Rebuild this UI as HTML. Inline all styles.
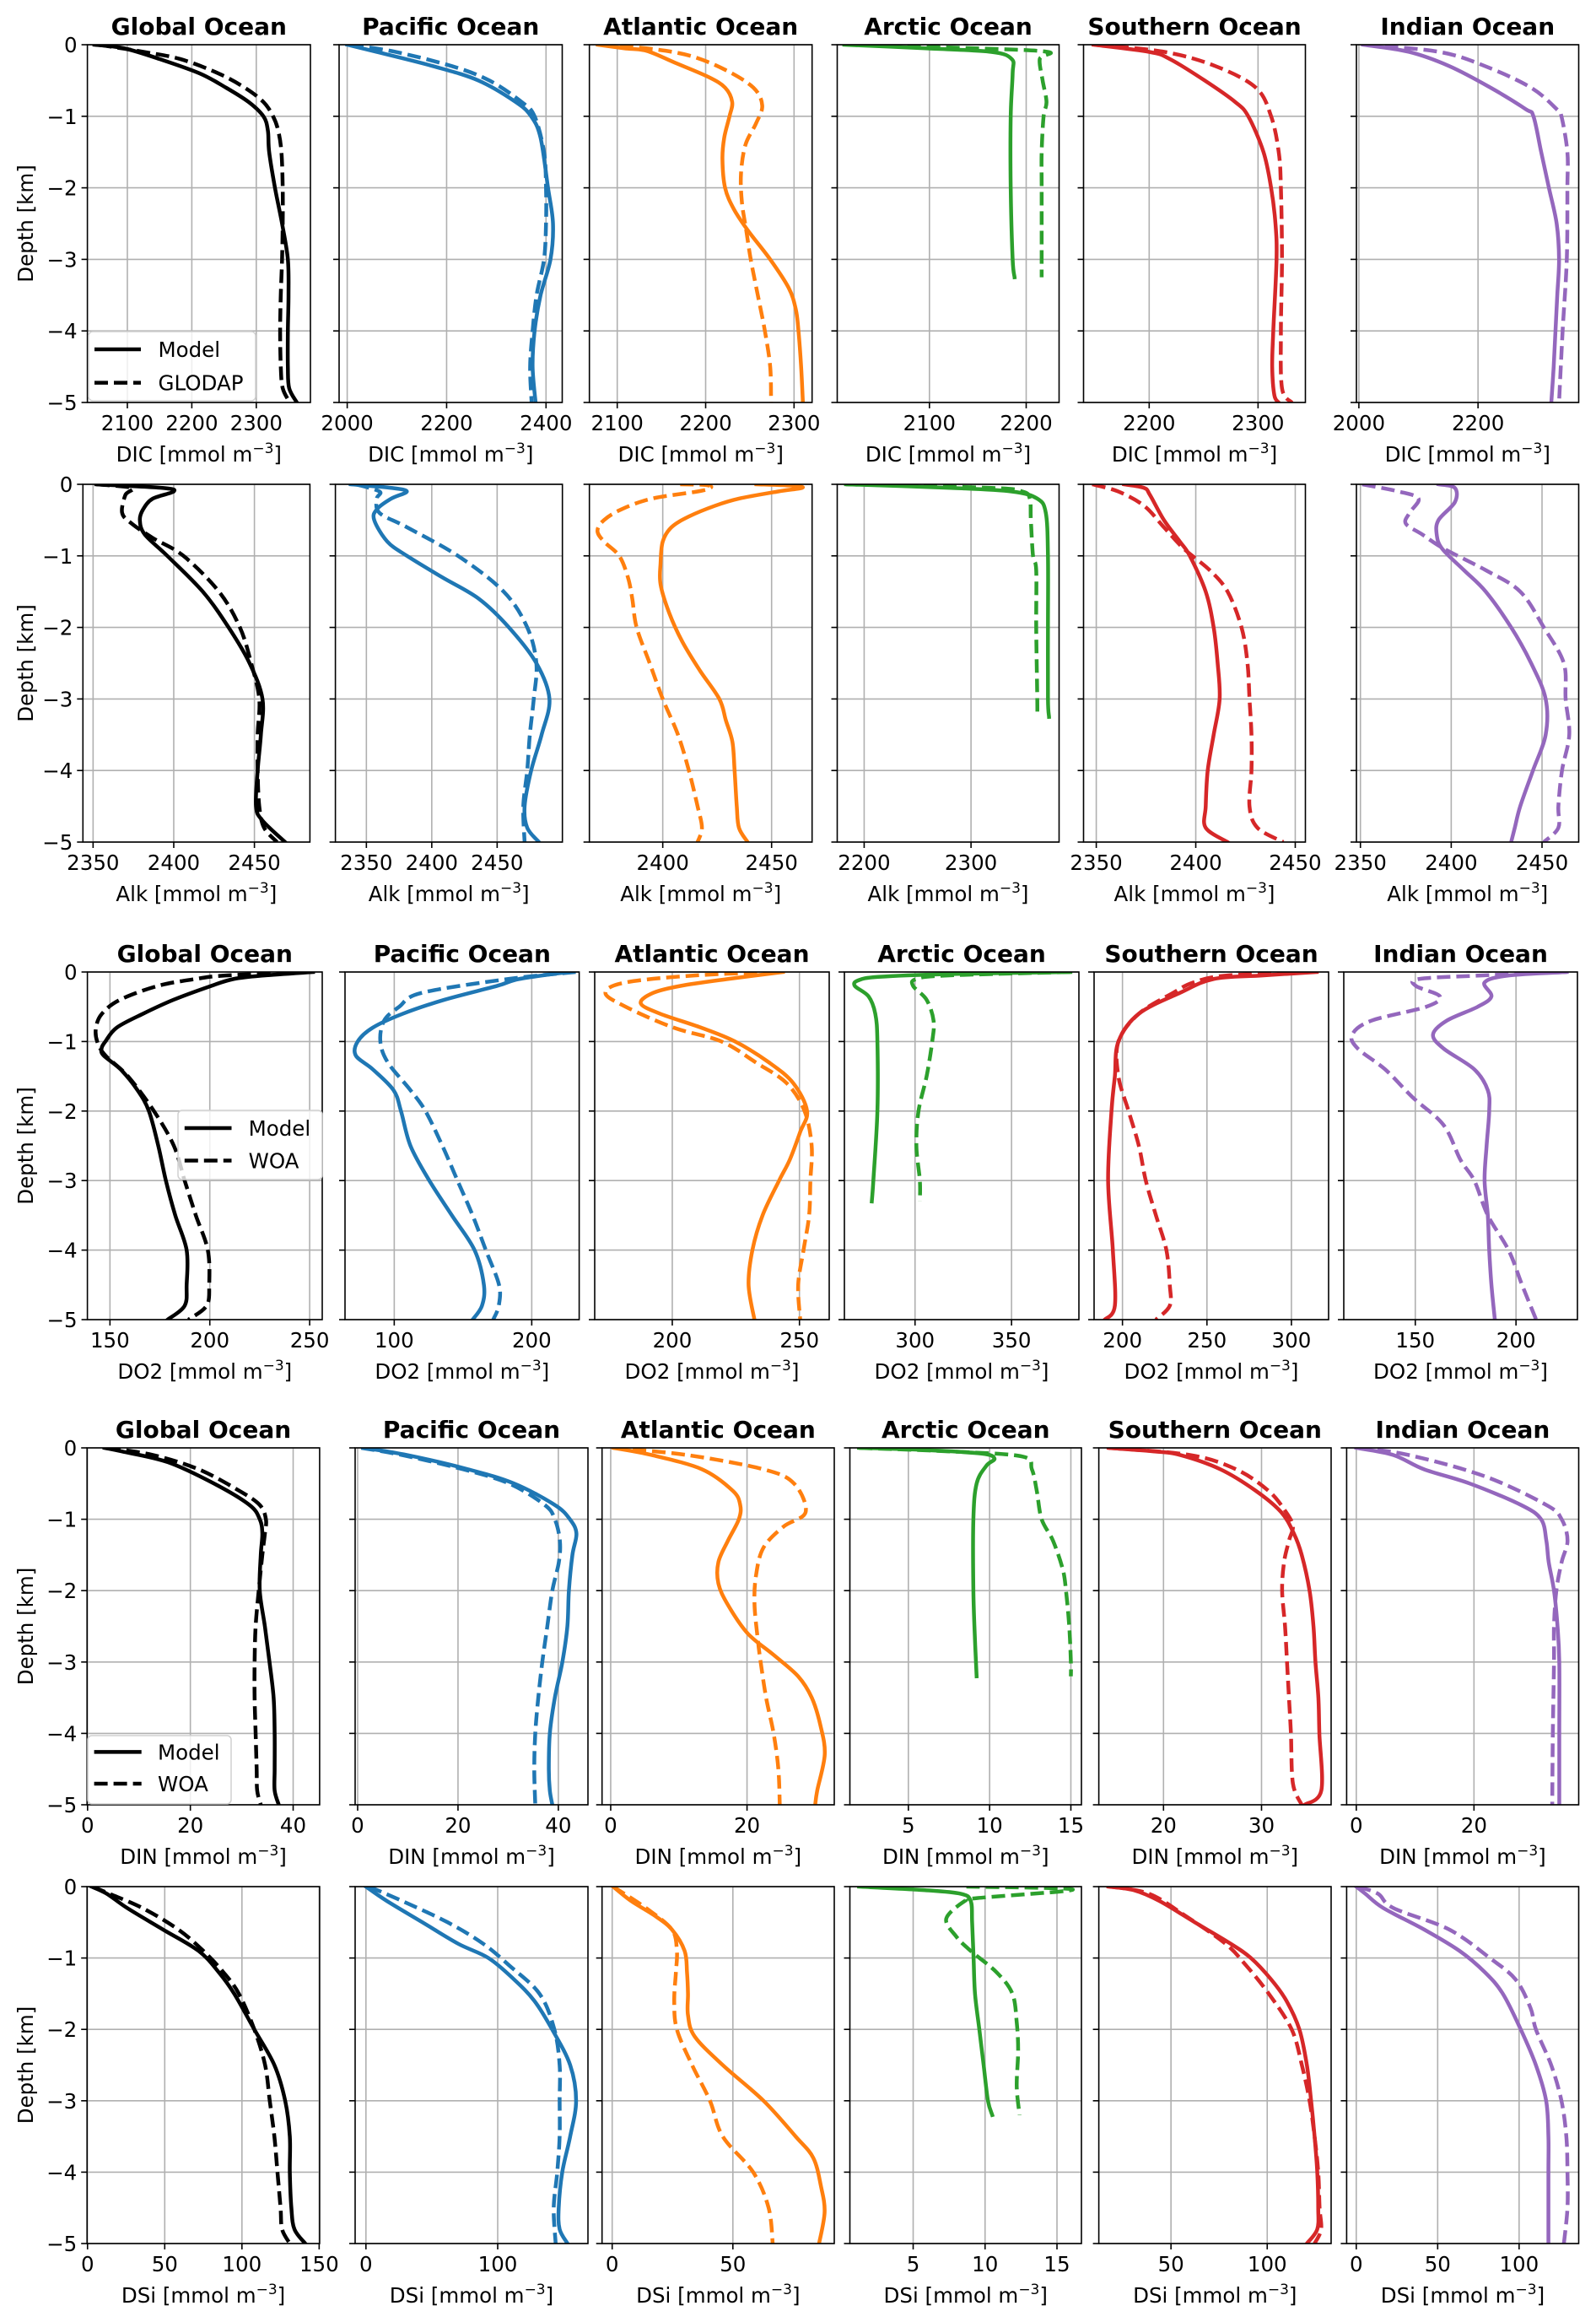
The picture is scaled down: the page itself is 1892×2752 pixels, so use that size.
<!DOCTYPE html>
<html><head><meta charset="utf-8">
<style>
html,body{margin:0;padding:0;background:#fff;}
svg{display:block;font-family:"DejaVu Sans","Liberation Sans",sans-serif;}
</style></head>
<body>
<svg id="fig" width="1892" height="2752" viewBox="0 0 1892 2752" xmlns="http://www.w3.org/2000/svg"></svg>
<script>
// ===== DATA: [depth km, value] pairs =====
const DIC_GLOBAL_MODEL=[[0,2049],[-0.05,2095],[-0.2,2150],[-0.4,2212],[-0.6,2253],[-0.8,2288],[-1,2311],[-1.2,2318],[-1.5,2320],[-2,2329],[-2.5,2340],[-3,2349],[-3.5,2350],[-4,2349],[-4.5,2349],[-4.8,2351],[-5,2363]];
const DIC_GLOBAL_OBS=[[0,2055],[-0.1,2125],[-0.2,2182],[-0.4,2241],[-0.6,2282],[-0.8,2311],[-1,2326],[-1.2,2334],[-1.5,2339],[-2,2341],[-2.5,2341],[-3,2340],[-3.5,2338],[-4,2337],[-4.5,2338],[-4.8,2341],[-5,2352]];
const DIC_PACIFIC_MODEL=[[0,2000],[-0.1,2059],[-0.3,2173],[-0.5,2264],[-0.8,2339],[-1,2370],[-1.3,2389],[-2,2404],[-2.5,2414],[-3,2409],[-3.5,2389],[-4,2377],[-4.5,2373],[-5,2379]];
const DIC_PACIFIC_OBS=[[0,2006],[-0.1,2097],[-0.3,2211],[-0.5,2286],[-0.8,2351],[-1,2377],[-1.5,2396],[-2,2400],[-2.5,2400],[-3,2396],[-3.5,2381],[-4,2373],[-4.5,2368],[-5,2371]];
const DIC_ATLANTIC_MODEL=[[0,2078],[-0.05,2108],[-0.085,2133],[-0.25,2165],[-0.45,2203],[-0.6,2222],[-0.8,2230],[-1,2227],[-1.3,2221],[-1.6,2219],[-2,2222],[-2.3,2232],[-2.6,2248],[-3,2273],[-3.4,2294],[-3.7,2302],[-4,2305],[-4.5,2308],[-5,2310]];
const DIC_ATLANTIC_OBS=[[0,2081],[-0.05,2133],[-0.15,2181],[-0.35,2222],[-0.6,2254],[-0.85,2264],[-1.1,2257],[-1.4,2245],[-1.8,2240],[-2.2,2241],[-2.6,2246],[-3,2251],[-3.5,2259],[-4,2267],[-4.5,2273],[-5,2274]];
const DIC_ARCTIC_MODEL=[[0,2012],[-0.05,2096],[-0.1,2164],[-0.2,2185],[-0.4,2186],[-1,2184],[-2,2184],[-3,2186],[-3.25,2188]];
const DIC_ARCTIC_OBS=[[0,2017],[-0.05,2148],[-0.1,2222],[-0.2,2214],[-0.5,2217],[-0.8,2221],[-1,2218],[-1.5,2216],[-2,2216],[-3.25,2216]];
const DIC_SOUTHERN_MODEL=[[0,2149],[-0.1,2200],[-0.2,2219],[-0.5,2251],[-0.8,2279],[-1,2291],[-1.5,2305],[-2,2312],[-2.5,2316],[-3,2317],[-4,2314],[-4.5,2313],[-4.9,2315],[-5,2319]];
const DIC_SOUTHERN_OBS=[[0,2151],[-0.1,2214],[-0.3,2261],[-0.6,2298],[-1,2312],[-1.5,2319],[-2,2321],[-3,2322],[-4,2321],[-4.8,2322],[-5,2331]];
const DIC_INDIAN_MODEL=[[0,2007],[-0.1,2084],[-0.3,2152],[-0.6,2221],[-0.9,2280],[-1,2293],[-1.5,2306],[-2,2319],[-2.5,2332],[-3,2336],[-3.5,2333],[-4,2330],[-4.5,2327],[-5,2323]];
const DIC_INDIAN_OBS=[[0,2011],[-0.1,2135],[-0.3,2212],[-0.6,2289],[-0.9,2332],[-1,2340],[-1.5,2350],[-2,2350],[-3,2349],[-4,2342],[-5,2336]];

const ALK_GLOBAL_MODEL=[[0,2352],[-0.05,2393],[-0.1,2400],[-0.2,2387],[-0.35,2381],[-0.5,2379],[-0.7,2382],[-1,2396],[-1.5,2418],[-2,2434],[-2.5,2447],[-3,2455],[-3.5,2454],[-4,2452],[-4.5,2451],[-4.7,2455],[-5,2469]];
const ALK_GLOBAL_OBS=[[0,2352],[-0.05,2374],[-0.15,2370],[-0.4,2368],[-0.55,2374],[-0.75,2387],[-1,2406],[-1.5,2428],[-2,2441],[-2.5,2448],[-3,2453],[-3.5,2452],[-4,2452],[-4.5,2453],[-4.8,2456],[-5,2464]];
const ALK_PACIFIC_MODEL=[[0,2338],[-0.05,2369],[-0.1,2381],[-0.2,2369],[-0.35,2358],[-0.5,2356],[-0.8,2366],[-1,2381],[-1.3,2408],[-1.6,2436],[-2,2459],[-2.5,2480],[-3,2490],[-3.5,2484],[-4,2476],[-4.5,2471],[-4.8,2473],[-5,2482]];
const ALK_PACIFIC_OBS=[[0,2342],[-0.1,2360],[-0.2,2358],[-0.4,2360],[-0.6,2381],[-1,2420],[-1.5,2455],[-2,2473],[-2.5,2480],[-3,2478],[-3.5,2475],[-4,2473],[-4.5,2470],[-5,2471]];
const ALK_ATLANTIC_MODEL=[[0,2443],[-0.02,2460],[-0.05,2464],[-0.1,2453],[-0.2,2435],[-0.3,2424],[-0.45,2412],[-0.6,2404],[-0.8,2400],[-1.1,2399],[-1.4,2399],[-1.8,2403],[-2.2,2409],[-2.6,2417],[-3,2426],[-3.3,2429],[-3.6,2432],[-4,2433],[-4.5,2434],[-4.8,2435],[-5,2439]];
const ALK_ATLANTIC_OBS=[[0,2408],[-0.01,2420],[-0.05,2422],[-0.1,2416],[-0.2,2395],[-0.35,2381],[-0.5,2373],[-0.65,2370],[-0.8,2373],[-1,2380],[-1.3,2384],[-1.6,2386],[-2,2388],[-2.5,2394],[-3,2400],[-3.5,2407],[-4,2412],[-4.5,2416],[-4.8,2418],[-5,2416]];
const ALK_ARCTIC_MODEL=[[0,2183],[-0.05,2281],[-0.1,2338],[-0.2,2362],[-0.4,2370],[-1,2372],[-2,2372],[-3,2372],[-3.25,2373]];
const ALK_ARCTIC_OBS=[[0,2183],[-0.05,2319],[-0.1,2348],[-0.2,2355],[-0.5,2356],[-1,2358],[-1.2,2361],[-2,2361],[-3,2362],[-3.25,2362]];
const ALK_SOUTHERN_MODEL=[[0,2364],[-0.05,2374],[-0.15,2377],[-0.5,2384],[-0.8,2392],[-1,2397],[-1.5,2405],[-2,2409],[-2.5,2411],[-3,2412],[-3.5,2409],[-4,2406],[-4.5,2405],[-4.8,2405],[-5,2416]];
const ALK_SOUTHERN_OBS=[[0,2348],[-0.1,2361],[-0.3,2374],[-0.6,2384],[-0.9,2394],[-1.2,2407],[-1.5,2416],[-2,2423],[-2.5,2426],[-3,2427],[-3.5,2428],[-4,2428],[-4.5,2427],[-4.8,2431],[-5,2444]];
const ALK_INDIAN_MODEL=[[0,2393],[-0.05,2402],[-0.25,2402],[-0.5,2393],[-0.7,2392],[-0.9,2395],[-1.2,2407],[-1.5,2419],[-2,2433],[-2.5,2444],[-3,2452],[-3.5,2452],[-4,2445],[-4.5,2438],[-4.8,2435],[-5,2433]];
const ALK_INDIAN_OBS=[[0,2351],[-0.1,2371],[-0.2,2382],[-0.4,2377],[-0.55,2375],[-0.7,2384],[-0.9,2396],[-1.2,2419],[-1.5,2438],[-2,2451],[-2.5,2462],[-3,2463],[-3.5,2465],[-4,2461],[-4.5,2459],[-4.8,2459],[-5,2451]];

const DO2_GLOBAL_MODEL=[[0,251.7],[-0.05,227],[-0.1,212],[-0.2,200.7],[-0.4,181.8],[-0.6,166.6],[-0.8,153.4],[-1,147.7],[-1.1,145.8],[-1.2,146.8],[-1.4,155.3],[-1.7,163.8],[-2,169.5],[-2.5,174.2],[-3,178],[-3.5,182.7],[-4,188.4],[-4.5,188.4],[-4.8,187.4],[-5,178.9]];
const DO2_GLOBAL_OBS=[[0,249.8],[-0.05,208],[-0.1,193],[-0.2,174],[-0.4,155],[-0.6,146],[-0.8,143],[-1,143.6],[-1.2,147.7],[-1.5,159],[-2,172],[-2.5,182],[-3,187.4],[-3.5,193],[-4,199],[-4.5,199.7],[-4.8,198.4],[-5,189.3]];
const DO2_PACIFIC_MODEL=[[0,226.8],[-0.1,191],[-0.2,174.8],[-0.4,136.4],[-0.6,106.3],[-0.8,84.4],[-1,73.4],[-1.2,72],[-1.4,84.4],[-1.7,99.5],[-2,104.9],[-2.5,111.8],[-3,125.5],[-3.5,141.9],[-4,158.4],[-4.5,165.2],[-4.8,163.8],[-5,157]];
const DO2_PACIFIC_OBS=[[0,232],[-0.1,183],[-0.3,120],[-0.5,103.6],[-0.7,92.6],[-1,89.9],[-1.3,95.3],[-1.7,111.8],[-2,122.7],[-2.5,135],[-3,146],[-3.5,157],[-4,166.6],[-4.5,176.2],[-4.8,176],[-5,172]];
const DO2_ATLANTIC_MODEL=[[0,243.5],[-0.1,222],[-0.2,203.2],[-0.3,192.5],[-0.45,187.6],[-0.6,195.2],[-0.8,211.3],[-1,224.7],[-1.3,238],[-1.6,247.6],[-2,253],[-2.3,250.3],[-2.7,246.2],[-3,242],[-3.5,235.5],[-4,231.5],[-4.5,230],[-5,232.3]];
const DO2_ATLANTIC_OBS=[[0,241],[-0.05,208.6],[-0.15,181.7],[-0.3,173.7],[-0.5,181.7],[-0.8,200.5],[-1,219.4],[-1.3,232.8],[-1.6,245],[-2,252],[-2.5,254.8],[-3,254.3],[-3.5,253.8],[-4,251.6],[-4.5,249.5],[-5,250.3]];
const DO2_ARCTIC_MODEL=[[0,380.5],[-0.03,316.7],[-0.07,281],[-0.12,270.6],[-0.2,268.8],[-0.35,275.9],[-0.6,279.4],[-1,280.5],[-2,280.5],[-3,278.4],[-3.3,277.6]];
const DO2_ARCTIC_OBS=[[0,380.5],[-0.05,316.7],[-0.1,300.7],[-0.2,299],[-0.4,306],[-0.7,309.6],[-1,308.9],[-1.5,306],[-2,301.8],[-2.5,300.7],[-3,302.5],[-3.3,302.5]];
const DO2_SOUTHERN_MODEL=[[0,315],[-0.05,282.6],[-0.1,254],[-0.3,234],[-0.6,209.7],[-1,197.6],[-1.5,195.5],[-2,193.5],[-3,191.5],[-4,194.3],[-4.8,195.5],[-5,189.5]];
const DO2_SOUTHERN_OBS=[[0,311],[-0.05,262],[-0.15,242],[-0.3,230],[-0.6,209.7],[-1,197.6],[-1.5,197.6],[-2,203.6],[-2.5,209.7],[-3,213.8],[-3.5,219.8],[-4,226],[-4.5,228],[-4.8,228],[-5,219.8]];
const DO2_INDIAN_MODEL=[[0,225.2],[-0.05,196.3],[-0.15,184.4],[-0.35,187.8],[-0.5,181],[-0.7,165.6],[-0.9,158.8],[-1.1,164],[-1.4,179.3],[-1.7,186],[-2,186.7],[-2.5,185.4],[-3,184.4],[-3.5,186],[-4,186.7],[-4.5,187.8],[-5,189.5]];
const DO2_INDIAN_OBS=[[0,225.2],[-0.05,182.7],[-0.1,152],[-0.2,150.3],[-0.35,162.2],[-0.5,155.4],[-0.7,128.2],[-0.9,118.7],[-1.1,121.4],[-1.4,135],[-1.8,148.6],[-2.2,164],[-2.7,172.4],[-3,179.3],[-3.5,186],[-4,196.3],[-4.5,203],[-5,210]];

const DIN_GLOBAL_MODEL=[[0,3.3],[-0.05,6.7],[-0.2,15.6],[-0.5,24.6],[-0.8,31.5],[-1,33.5],[-1.2,34],[-1.5,33.7],[-2,33.5],[-2.5,34.5],[-3,35.4],[-3.5,36.2],[-4,36.4],[-4.5,36.4],[-4.8,36.4],[-5,37.2]];
const DIN_GLOBAL_OBS=[[0,3.8],[-0.1,12.7],[-0.3,21.6],[-0.6,29.5],[-0.8,33.5],[-1,34.7],[-1.2,34.5],[-1.5,34],[-2,33.3],[-2.5,32.7],[-3,32.5],[-3.5,32.5],[-4,32.7],[-4.5,32.9],[-4.8,33],[-5,33.7]];
const DIN_PACIFIC_MODEL=[[0,1.2],[-0.1,9.8],[-0.3,22],[-0.5,31.2],[-0.8,39.3],[-1,42.3],[-1.2,43.6],[-1.5,42.8],[-2,42.1],[-2.5,41.8],[-3,40.8],[-3.5,39.3],[-4,38.3],[-4.5,38.1],[-4.8,38.3],[-5,38.8]];
const DIN_PACIFIC_OBS=[[0,0.7],[-0.1,8.8],[-0.3,21],[-0.5,30.2],[-0.8,37.3],[-1,39.3],[-1.3,40.3],[-1.6,40.1],[-2,38.8],[-2.5,37.8],[-3,36.8],[-3.5,36],[-4,35.4],[-4.5,35.2],[-5,35.4]];
const DIN_ATLANTIC_MODEL=[[0,0.4],[-0.1,6],[-0.3,13.4],[-0.6,17.9],[-0.8,19],[-1,18.8],[-1.3,17.2],[-1.6,15.8],[-1.9,15.8],[-2.2,17.2],[-2.6,20.1],[-2.9,23.9],[-3.2,27.5],[-3.5,29.5],[-3.9,30.8],[-4.3,31.4],[-4.8,30.3],[-5,30]];
const DIN_ATLANTIC_OBS=[[0,0.4],[-0.1,11.2],[-0.3,22.4],[-0.5,26.9],[-0.9,28.6],[-1.1,25.4],[-1.4,22.4],[-1.8,21.3],[-2.2,21.1],[-2.7,21.6],[-3,22],[-3.5,22.8],[-4,23.9],[-4.5,24.6],[-5,24.8]];
const DIN_ARCTIC_MODEL=[[0,1.96],[-0.03,6],[-0.08,9.5],[-0.15,10.3],[-0.25,9.8],[-0.5,9.2],[-1,9],[-2,9],[-2.7,9.1],[-3.2,9.2]];
const DIN_ARCTIC_OBS=[[0,1.96],[-0.05,7.6],[-0.12,12],[-0.3,12.6],[-0.6,12.9],[-1,13.2],[-1.3,13.9],[-1.7,14.5],[-2,14.7],[-2.5,14.9],[-3,15],[-3.2,15]];
const DIN_SOUTHERN_MODEL=[[0,14.4],[-0.05,19.1],[-0.1,21.7],[-0.3,25.8],[-0.6,29.4],[-0.9,32],[-1.2,33.3],[-1.5,34.1],[-2,34.9],[-2.5,35.3],[-3,35.5],[-3.5,35.8],[-4,35.9],[-4.8,36.1],[-5,34.4]];
const DIN_SOUTHERN_OBS=[[0,14.4],[-0.1,22.7],[-0.3,27.4],[-0.6,30.7],[-0.9,32.5],[-1.1,33.2],[-1.3,32.8],[-1.6,32.3],[-2,32.1],[-2.5,32.4],[-3,32.6],[-3.5,32.8],[-4,33],[-4.7,33.2],[-5,34.1]];
const DIN_INDIAN_MODEL=[[0,0],[-0.1,6.3],[-0.3,11.5],[-0.5,19.3],[-0.8,28],[-1,31.4],[-1.3,32.3],[-1.6,32.7],[-2,33.6],[-2.5,34.2],[-3,34.5],[-4,34.5],[-5,34.5]];
const DIN_INDIAN_OBS=[[0,0.3],[-0.1,8.9],[-0.4,21.9],[-0.8,32.3],[-1,34.9],[-1.3,35.9],[-1.6,34.9],[-2,34],[-2.5,33.6],[-3,33.6],[-4,33.4],[-5,33.3]];

const DSI_GLOBAL_MODEL=[[0,2.6],[-0.1,12.5],[-0.3,25.7],[-0.6,48.8],[-0.9,71.9],[-1.2,85],[-1.5,95],[-2,108],[-2.5,121],[-3,128],[-3.5,131],[-4,131],[-4.5,132],[-4.8,134],[-5,141]];
const DSI_GLOBAL_OBS=[[0,3.3],[-0.1,14.2],[-0.3,35.6],[-0.6,58.7],[-0.9,75],[-1.2,88],[-1.5,98],[-2,108],[-2.5,115],[-3,118],[-3.5,121],[-4,123],[-4.5,125],[-4.8,126],[-5,131]];
const DSI_PACIFIC_MODEL=[[0,0],[-0.2,15.8],[-0.5,42.9],[-0.8,70],[-1,93],[-1.3,112.4],[-1.6,127.8],[-2,141.3],[-2.5,155],[-3,159.5],[-3.5,155],[-4,149],[-4.5,146.3],[-4.8,147],[-5,153]];
const DSI_PACIFIC_OBS=[[0,2.3],[-0.2,27.4],[-0.5,62],[-0.8,89],[-1.1,108.5],[-1.5,131.7],[-2,143],[-2.5,147],[-3,147],[-3.5,147],[-4,145.2],[-4.5,142.5],[-5,144]];
const DSI_ATLANTIC_MODEL=[[0,0.4],[-0.2,7.8],[-0.4,17.3],[-0.6,24.7],[-0.9,30],[-1.2,31],[-1.5,31.4],[-1.8,31.4],[-2.1,34.2],[-2.5,45.8],[-3,62.7],[-3.5,76],[-3.8,83.3],[-4.2,86.5],[-4.56,88],[-5,85.7]];
const DSI_ATLANTIC_OBS=[[0,0.4],[-0.3,14],[-0.6,24.7],[-0.9,26.8],[-1.2,26.4],[-1.6,25.7],[-2,26.8],[-2.5,33.1],[-3,40.5],[-3.5,45.8],[-4,58.4],[-4.5,64.8],[-5,66.5]];
const DSI_ARCTIC_MODEL=[[0,1.24],[-0.05,5.85],[-0.1,8.3],[-0.2,9],[-0.5,9.1],[-1,9.2],[-1.5,9.3],[-2,9.6],[-2.5,9.9],[-3,10.2],[-3.2,10.5]];
const DSI_ARCTIC_OBS=[[0,8.7],[-0.04,16.1],[-0.16,9.5],[-0.2,8.6],[-0.45,7.3],[-0.7,8],[-0.9,9],[-1.2,10.8],[-1.5,11.9],[-1.9,12.2],[-2.3,12.3],[-2.8,12.2],[-3.2,12.4]];
const DSI_SOUTHERN_MODEL=[[0,17.5],[-0.05,30.7],[-0.2,43.9],[-0.5,62.4],[-0.8,81],[-1,91.5],[-1.3,102],[-1.6,110],[-2,116.7],[-2.5,120.6],[-3,122.8],[-3.5,124.6],[-4,126],[-4.5,126.5],[-4.8,126],[-5,120.6]];
const DSI_SOUTHERN_OBS=[[0,18.8],[-0.1,38.6],[-0.4,57],[-0.8,78.3],[-1.1,88.9],[-1.5,100.8],[-2,112.7],[-2.5,118],[-3,122],[-3.5,124.6],[-4,126.5],[-4.5,127.2],[-4.8,128],[-5,124.6]];
const DSI_INDIAN_MODEL=[[0,0],[-0.1,5.6],[-0.3,16.6],[-0.6,41.6],[-0.9,63.4],[-1.2,79],[-1.5,90],[-2,101],[-2.5,110.3],[-3,116.6],[-3.5,118],[-4,118],[-5,118]];
const DSI_INDIAN_OBS=[[0,0.9],[-0.1,13.4],[-0.3,22.8],[-0.6,57],[-1,82],[-1.3,97.8],[-1.7,107],[-2,110.3],[-2.5,119.7],[-3,126],[-3.5,129],[-4,129.7],[-4.5,129.7],[-5,127.5]];

// tick label arrays
const DEPTH_TICKS=[0,-1,-2,-3,-4,-5];
const DIC_TICKS=[[2100,2200,2300],[2000,2200,2400],[2100,2200,2300],[2100,2200],[2200,2300],[2000,2200]];
const ALK_TICKS=[[2350,2400,2450],[2350,2400,2450],[2400,2450],[2200,2300],[2350,2400,2450],[2350,2400,2450]];
const DO2_TICKS=[[150,200,250],[100,200],[200,250],[300,350],[200,250,300],[150,200]];
const DIN_TICKS=[[0,20,40],[0,20,40],[0,20],[5,10,15],[20,30],[0,20]];
const DSI_TICKS=[[0,50,100,150],[0,100],[0,50],[5,10,15],[50,100],[0,50,100]];

const OCEANS=['Global Ocean','Pacific Ocean','Atlantic Ocean','Arctic Ocean','Southern Ocean','Indian Ocean'];
const COLORS=['#000000','#1f77b4','#ff7f0e','#2ca02c','#d62728','#9467bd'];

// ===== LAYOUT =====
const ROWS=[
 {v:'DIC',top:53,bottom:477,ticks:DIC_TICKS,titles:true,
  xs:[[103.6,368],[402,666.5],[698.7,962.7],[992.5,1255.5],[1284.5,1547.5],[1608,1871.5]],
  lim:[[2038,2384],[1983.7,2432.6],[2068.5,2320.4],[2004.7,2234],[2139.7,2343.5],[1995.9,2369]],
  model:[DIC_GLOBAL_MODEL,DIC_PACIFIC_MODEL,DIC_ATLANTIC_MODEL,DIC_ARCTIC_MODEL,DIC_SOUTHERN_MODEL,DIC_INDIAN_MODEL],
  obs:[DIC_GLOBAL_OBS,DIC_PACIFIC_OBS,DIC_ATLANTIC_OBS,DIC_ARCTIC_OBS,DIC_SOUTHERN_OBS,DIC_INDIAN_OBS],
  legend:{label:'GLODAP',box:[105,393,198,82],y1:414,y2:453.6,lx0:112,lx1:167,tx:187.5}},
 {v:'Alk',top:574,bottom:998,ticks:ALK_TICKS,titles:false,
  xs:[[98.3,367.4],[397.6,666.7],[698.7,962.7],[992.5,1255.5],[1284.5,1547.5],[1608,1871.5]],
  lim:[[2343.7,2484.4],[2326.3,2499.9],[2366.3,2468.6],[2174.8,2382.4],[2343.6,2455.1],[2347.8,2470.2]],
  model:[ALK_GLOBAL_MODEL,ALK_PACIFIC_MODEL,ALK_ATLANTIC_MODEL,ALK_ARCTIC_MODEL,ALK_SOUTHERN_MODEL,ALK_INDIAN_MODEL],
  obs:[ALK_GLOBAL_OBS,ALK_PACIFIC_OBS,ALK_ATLANTIC_OBS,ALK_ARCTIC_OBS,ALK_SOUTHERN_OBS,ALK_INDIAN_OBS],
  legend:null},
 {v:'DO2',top:1152,bottom:1564,ticks:DO2_TICKS,titles:true,
  xs:[[103.6,382],[409,686.6],[705,983],[1001,1279],[1297,1575],[1593,1870]],
  lim:[[138.7,256.3],[64.2,234.5],[169.5,261.7],[263.4,384.9],[183.2,322],[114.5,230.5]],
  model:[DO2_GLOBAL_MODEL,DO2_PACIFIC_MODEL,DO2_ATLANTIC_MODEL,DO2_ARCTIC_MODEL,DO2_SOUTHERN_MODEL,DO2_INDIAN_MODEL],
  obs:[DO2_GLOBAL_OBS,DO2_PACIFIC_OBS,DO2_ATLANTIC_OBS,DO2_ARCTIC_OBS,DO2_SOUTHERN_OBS,DO2_INDIAN_OBS],
  legend:{label:'WOA',box:[211,1316,171,82],y1:1337,y2:1375.5,lx0:218.8,lx1:274.5,tx:294.6}},
 {v:'DIN',top:1716,bottom:2139,ticks:DIN_TICKS,titles:true,
  xs:[[103.2,378.9],[421,697],[713.7,989],[1007.5,1282],[1302.6,1578],[1596.4,1871.5]],
  lim:[[-0.1,45.15],[-0.5,45.9],[-1.27,32.8],[1.4,15.65],[13.4,37.1],[-1.64,37.8]],
  model:[DIN_GLOBAL_MODEL,DIN_PACIFIC_MODEL,DIN_ATLANTIC_MODEL,DIN_ARCTIC_MODEL,DIN_SOUTHERN_MODEL,DIN_INDIAN_MODEL],
  obs:[DIN_GLOBAL_OBS,DIN_PACIFIC_OBS,DIN_ATLANTIC_OBS,DIN_ARCTIC_OBS,DIN_SOUTHERN_OBS,DIN_INDIAN_OBS],
  legend:{label:'WOA',box:[104,2057,170,81],y1:2076.4,y2:2114,lx0:111.6,lx1:167.7,tx:187}},
 {v:'DSi',top:2236,bottom:2659,ticks:DSI_TICKS,titles:false,
  xs:[[103.2,378.9],[421,697],[713.7,989],[1007.5,1282],[1302.6,1578],[1596.4,1871.5]],
  lim:[[-0.3,150.3],[-8.2,168.5],[-4.2,92],[0.6,16.7],[12.5,133.2],[-5.9,136.6]],
  model:[DSI_GLOBAL_MODEL,DSI_PACIFIC_MODEL,DSI_ATLANTIC_MODEL,DSI_ARCTIC_MODEL,DSI_SOUTHERN_MODEL,DSI_INDIAN_MODEL],
  obs:[DSI_GLOBAL_OBS,DSI_PACIFIC_OBS,DSI_ATLANTIC_OBS,DSI_ARCTIC_OBS,DSI_SOUTHERN_OBS,DSI_INDIAN_OBS],
  legend:null}
];

const NS='http://www.w3.org/2000/svg';
const svg=document.getElementById('fig');
function mk(tag,attrs,parent){const e=document.createElementNS(NS,tag);for(const k in attrs)e.setAttribute(k,attrs[k]);(parent||svg).appendChild(e);return e;}
function f(n){return Math.round(n*100)/100;}
function smooth(p){
  let d='M'+f(p[0][0])+','+f(p[0][1]);
  for(let i=0;i<p.length-1;i++){
    const p0=p[i-1]||p[i],p1=p[i],p2=p[i+1],p3=p[i+2]||p[i+1];
    const c1=[p1[0]+(p2[0]-p0[0])/6,p1[1]+(p2[1]-p0[1])/6];
    const c2=[p2[0]-(p3[0]-p1[0])/6,p2[1]-(p3[1]-p1[1])/6];
    d+=' C'+f(c1[0])+','+f(c1[1])+' '+f(c2[0])+','+f(c2[1])+' '+f(p2[0])+','+f(p2[1]);
  }
  return d;
}
const defs=mk('defs',{});
const LW=4.5, DASH='16 7', FS=24.5;

ROWS.forEach((row,ri)=>{
  const yS=d=>row.top+(0-d)/5*(row.bottom-row.top);
  for(let c=0;c<6;c++){
    const [x0,x1]=row.xs[c],[mn,mx]=row.lim[c];
    const xS=v=>x0+(v-mn)/(mx-mn)*(x1-x0);
    const key=row.v.toLowerCase()+'-'+OCEANS[c].split(' ')[0].toLowerCase();
    const g=mk('g',{});
    
    
    const cp=mk('clipPath',{id:'cp'+ri+'_'+c},defs);
    mk('rect',{x:x0,y:row.top,width:x1-x0,height:row.bottom-row.top},cp);
    DEPTH_TICKS.forEach(d=>{
      const gl=mk('line',{x1:x0,x2:x1,y1:yS(d),y2:yS(d),stroke:'#b0b0b0','stroke-width':1.6},g);
      
      
    });
    row.ticks[c].forEach(t=>{
      const gl=mk('line',{x1:xS(t),x2:xS(t),y1:row.top,y2:row.bottom,stroke:'#b0b0b0','stroke-width':1.6},g);
      
      
    });
    const cg=mk('g',{'clip-path':'url(#cp'+ri+'_'+c+')'},g);
    const obsPts=row.obs[c].map(p=>[xS(p[1]),yS(p[0])]);
    const modPts=row.model[c].map(p=>[xS(p[1]),yS(p[0])]);
    const po=mk('path',{d:smooth(obsPts),fill:'none',stroke:COLORS[c],'stroke-width':LW,'stroke-dasharray':DASH,'stroke-linejoin':'round'},cg);
    
    
    const pm=mk('path',{d:smooth(modPts),fill:'none',stroke:COLORS[c],'stroke-width':LW,'stroke-linejoin':'round','stroke-linecap':'square'},cg);
    
    
    const fr=mk('rect',{x:x0,y:row.top,width:x1-x0,height:row.bottom-row.top,fill:'none',stroke:'#000','stroke-width':1.6},g);
    
    
    DEPTH_TICKS.forEach(d=>{
      const tk=mk('line',{x1:x0-7,x2:x0,y1:yS(d),y2:yS(d),stroke:'#000','stroke-width':1.6},g);
      
      
      if(c===0){
        const tl=mk('text',{x:x0-12,y:yS(d)+9,'text-anchor':'end','font-size':FS,fill:'#000'},g);
        tl.textContent=d===0?'0':'\u2212'+Math.abs(d);
        
        
      }
    });
    row.ticks[c].forEach(t=>{
      const tk=mk('line',{x1:xS(t),x2:xS(t),y1:row.bottom,y2:row.bottom+7,stroke:'#000','stroke-width':1.6},g);
      
      
      const tl=mk('text',{x:xS(t),y:row.bottom+33,'text-anchor':'middle','font-size':FS,fill:'#000'},g);
      tl.textContent=String(t);
      
      
    });
    if(row.titles){
      const ti=mk('text',{x:(x0+x1)/2,y:row.top-12,'text-anchor':'middle','font-size':28,'font-weight':'bold',fill:'#000'},g);
      ti.textContent=OCEANS[c];
      
      
    }
    const xl=mk('text',{x:(x0+x1)/2,y:row.bottom+70,'text-anchor':'middle','font-size':FS,fill:'#000'},g);
    xl.textContent=row.v+' [mmol m';
    const sup=mk('tspan',{dy:-10,'font-size':17},xl);
    sup.textContent='\u22123';
    const end=mk('tspan',{dy:10},xl);
    end.textContent=']';
    
    
    if(c===0){
      const yl=mk('text',{x:0,y:0,transform:'translate(39,'+((row.top+row.bottom)/2)+') rotate(-90)','text-anchor':'middle','font-size':FS,fill:'#000'},g);
      yl.textContent='Depth [km]';
      
      
      if(row.legend){
        const L=row.legend;
        const lg=mk('g',{},g);
        
        
        mk('rect',{x:L.box[0],y:L.box[1],width:L.box[2],height:L.box[3],rx:5,fill:'#fff','fill-opacity':0.8,stroke:'#d0d0d0','stroke-width':1.5},lg);
        const e1=mk('line',{x1:L.lx0,x2:L.lx1,y1:L.y1,y2:L.y1,stroke:'#000','stroke-width':LW},lg);
        
        
        const t1=mk('text',{x:L.tx,y:L.y1+9,'font-size':FS,fill:'#000'},lg);
        t1.textContent='Model';
        
        
        const e2=mk('line',{x1:L.lx0,x2:L.lx1,y1:L.y2,y2:L.y2,stroke:'#000','stroke-width':LW,'stroke-dasharray':DASH},lg);
        
        
        const t2=mk('text',{x:L.tx,y:L.y2+9,'font-size':FS,fill:'#000'},lg);
        t2.textContent=L.label;
        
        
      }
    }
  }
});
</script>
</body></html>
